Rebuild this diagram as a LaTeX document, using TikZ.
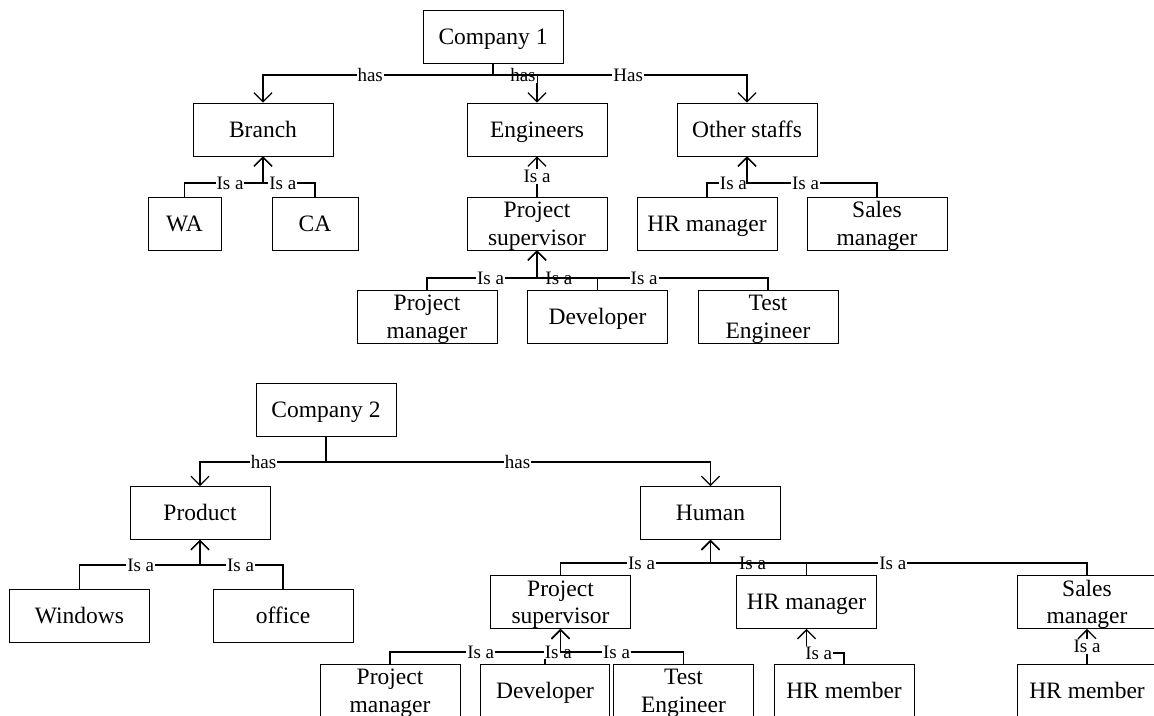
\documentclass[tikz,border=0pt]{standalone}
\usepackage{fontspec}
\setmainfont{Liberation Serif}
\usetikzlibrary{arrows.meta}

\tikzset{
	box/.style={draw,line width=0.8pt,minimum width=140pt,minimum height=53pt,inner sep=0pt,align=center,text height=15.5pt,text depth=0pt,font=\fontsize{23.5}{27.5}\selectfont},
	twoline/.style={text height=43pt,text depth=0pt},
	link/.style={line width=1.3pt,-{Straight Barb[length=9pt,width=18pt]}},
	lbl/.style={fill=white,inner sep=1pt,font=\fontsize{19}{22}\selectfont}
}

\begin{document}
\begin{tikzpicture}[x=1pt,y=-1pt]
	\useasboundingbox (0,0) rectangle (1154,715);
	% company 1
	\node[box] (comp1) at (493,36.5) {Company 1};
	\node[box] (branch) at (263,129.5) {Branch};
	\node[box] (eng) at (537,129.5) {Engineers};
	\node[box] (other) at (747,129.5) {Other staffs};
	\node[box,minimum width=73pt] (wa) at (184.5,223.5) {WA};
	\node[box,minimum width=86pt] (ca) at (315,223.5) {CA};
	\node[box,twoline] (sup1) at (537,223.5) {Project\\supervisor};
	\node[box] (hrm1) at (707,223.5) {HR manager};
	\node[box,twoline] (sales1) at (877,223.5) {Sales\\manager};
	\node[box,twoline] (pm1) at (427,316.5) {Project\\manager};
	\node[box] (dev1) at (597.5,316.5) {Developer};
	\node[box,twoline] (test1) at (768,316.5) {Test\\Engineer};
	\coordinate (bus1) at (0,75);
	\coordinate (bus2) at (0,183);
	\coordinate (bus3) at (0,278);
	\draw[link] (comp1.south) -- (comp1.south |- bus1) -| node[lbl,pos=.267] {has} (branch.north);
	\draw[link] (comp1.south) -- (comp1.south |- bus1) -| node[lbl,pos=.34] {has} (eng.north);
	\draw[link] (comp1.south) -- (comp1.south |- bus1) -| node[lbl,pos=.266] {Has} (other.north);
	\draw[link] (wa.north) -- (wa.north |- bus2) -| node[lbl,pos=.29] {Is a} (branch.south);
	\draw[link] (ca.north) -- (ca.north |- bus2) -| node[lbl,pos=.31] {Is a} (branch.south);
	\draw[link] (sup1.north) -- node[lbl] {Is a} (eng.south);
	\draw[link] (hrm1.north) -- (hrm1.north |- bus2) -| node[lbl,pos=.33] {Is a} (other.south);
	\draw[link] (sales1.north) -- (sales1.north |- bus2) -| node[lbl,pos=.275] {Is a} (other.south);
	\draw[link] (pm1.north) -- (pm1.north |- bus3) -| node[lbl,pos=.289] {Is a} (sup1.south);
	\draw[link] (dev1.north) -- (dev1.north |- bus3) -| node[lbl,pos=.319] {Is a} (sup1.south);
	\draw[link] (test1.north) -- (test1.north |- bus3) -| node[lbl,pos=.268] {Is a} (sup1.south);
	% company 2
	\node[box] (comp2) at (326,409.5) {Company 2};
	\node[box] (prod) at (200,513) {Product};
	\node[box] (human) at (710.5,513) {Human};
	\node[box] (win) at (79.5,616) {Windows};
	\node[box] (office) at (283,616) {office};
	\node[box,twoline] (sup2) at (560.5,602) {Project\\supervisor};
	\node[box] (hrm2) at (806.5,602) {HR manager};
	\node[box,twoline] (sales2) at (1087,602) {Sales\\manager};
	\node[box,twoline] (pm2) at (390,690.5) {Project\\manager};
	\node[box,minimum width=129pt] (dev2) at (545,690.5) {Developer};
	\node[box,twoline] (test2) at (683.5,690.5) {Test\\Engineer};
	\node[box] (mem1) at (844,690.5) {HR member};
	\node[box] (mem2) at (1087,690.5) {HR member};
	\coordinate (bus4) at (0,462);
	\coordinate (bus5) at (0,565);
	\coordinate (bus6) at (0,563);
	\coordinate (bus7) at (0,652);
	\coordinate (bus8) at (0,653);
	\draw[link] (comp2.south) -- (comp2.south |- bus4) -| node[lbl,pos=.248] {has} (prod.north);
	\draw[link] (comp2.south) -- (comp2.south |- bus4) -| node[lbl,pos=.249] {has} (human.north);
	\draw[link] (win.north) -- (win.north |- bus5) -| node[lbl,pos=.254] {Is a} (prod.south);
	\draw[link] (office.north) -- (office.north |- bus5) -| node[lbl,pos=.256] {Is a} (prod.south);
	\draw[link] (sup2.north) -- (sup2.north |- bus6) -| node[lbl,pos=.27] {Is a} (human.south);
	\draw[link] (hrm2.north) -- (hrm2.north |- bus6) -| node[lbl,pos=.281] {Is a} (human.south);
	\draw[link] (sales2.north) -- (sales2.north |- bus6) -| node[lbl,pos=.258] {Is a} (human.south);
	\draw[link] (pm2.north) -- (pm2.north |- bus7) -| node[lbl,pos=.266] {Is a} (sup2.south);
	\draw[link] (dev2.north) -- (dev2.north |- bus7) -| node[lbl,pos=.427] {Is a} (sup2.south);
	\draw[link] (test2.north) -- (test2.north |- bus7) -| node[lbl,pos=.272] {Is a} (sup2.south);
	\draw[link] (mem1.north) -- (mem1.north |- bus8) -| node[lbl,pos=.337] {Is a} (hrm2.south);
	\draw[link] (mem2.north) -- node[lbl] {Is a} (sales2.south);
\end{tikzpicture}
\end{document}
